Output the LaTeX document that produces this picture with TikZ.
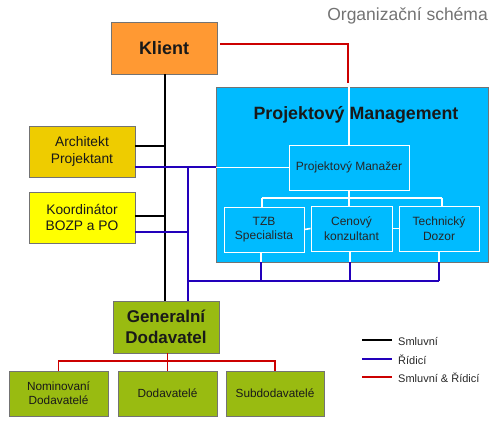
\documentclass[tikz,border=0pt]{standalone}
\usepackage{fontspec}
\setmainfont{Liberation Sans}
\begin{document}
\begin{tikzpicture}[x=1pt,y=-1pt,
  box/.style={draw=black!55,line width=0.8pt,inner sep=0pt,align=center,text=black!90},
  sub/.style={draw=white,line width=1pt,fill=pmblue,inner sep=0pt,align=center,text=black!85,font=\fontsize{12}{14.5}\selectfont},
  bot/.style={box,fill=gcol,minimum width=99,minimum height=45,font=\fontsize{11.8}{14}\selectfont},
  smluv/.style={line width=1.6pt,black},
  ridi/.style={line width=1.6pt,bluel},
  oboje/.style={line width=1.6pt,redl},
  wl/.style={line width=1.6pt,white},
  legtext/.style={anchor=west,inner sep=0pt,font=\fontsize{11}{13}\selectfont,text=black!85}]
\definecolor{pmblue}{HTML}{00BBFF}
\definecolor{orng}{HTML}{FF9933}
\definecolor{gold}{HTML}{EECC00}
\definecolor{ylw}{HTML}{FFFF00}
\definecolor{gcol}{HTML}{99BB11}
\definecolor{bluel}{HTML}{2200BB}
\definecolor{redl}{HTML}{CC0000}
\useasboundingbox (0,0) rectangle (497,426);
% title
\node[anchor=east,text=black!55,font=\fontsize{17.5}{19}\selectfont,inner sep=0pt] (title) at (488,16) {Organizační schéma};
% main boxes
\node[box,fill=orng,minimum width=106,minimum height=52,font=\fontsize{18}{20}\selectfont\bfseries] (klient) at (164,48) {Klient};
\node[box,fill=gold,minimum width=106,minimum height=51,font=\fontsize{13.8}{16.5}\selectfont] (arch) at (82,151.5) {Architekt\\Projektant};
\node[box,fill=ylw,minimum width=106,minimum height=51,font=\fontsize{13.8}{16.5}\selectfont] (koord) at (82,217.5) {Koordinátor\\BOZP a PO};
\node[box,fill=pmblue,minimum width=272,minimum height=175] (pm) at (352,174.5) {};
\node[font=\fontsize{17.8}{20}\selectfont\bfseries,text=black!90,inner sep=0pt] (pmtitle) at (356,115) {Projektový Management};
\node[box,fill=gcol,minimum width=106,minimum height=52,font=\fontsize{17}{20.5}\selectfont\bfseries] (gen) at (166,327) {Generalní\\Dodavatel};
% coordinates for connector rows/columns
\coordinate (bx) at (165,0);
\coordinate (blx) at (188,0);
\coordinate (r1) at (0,146);
\coordinate (r2) at (0,216);
\coordinate (rb1) at (0,167);
\coordinate (rb2) at (0,232);
\coordinate (rh) at (0,281);
\coordinate (c1) at (261,0);
\coordinate (c2) at (350,0);
\coordinate (c3) at (439,0);
\coordinate (redy) at (0,44);
\coordinate (redend) at (348,83);
% white internal connectors
\node[sub,minimum width=120,minimum height=45] (man) at (349,167.5) {Projektový Manažer};
\draw[wl] (man.north |- pm.north) -- (man.north);
\draw[wl] (pm.west |- man.west) -- (man.west);
\coordinate (wt) at (0,198);
\draw[wl] (man.south) -- (man.south |- wt);
\draw[wl] (262,198) -- (442,198);
\draw[wl] (262,198) -- (262,207);
\draw[wl] (349,198) -- (349,207);
\draw[wl] (442,198) -- (442,207);
\draw[wl] (c1 |- pm.south) -- (c1 |- 252,252);
\draw[wl] (c2 |- pm.south) -- (c2 |- 252,251);
\draw[wl] (c3 |- pm.south) -- (c3 |- 252,251);
\node[sub,minimum width=80,minimum height=45] (tzb) at (264,229.5) {TZB\\Specialista};
\node[sub,minimum width=81,minimum height=45] (cen) at (351.5,228.5) {Cenový\\konzultant};
\node[sub,minimum width=80,minimum height=45] (tech) at (439,228.5) {Technický\\Dozor};
\draw[wl] (tzb.east) -- (cen.west);
\draw[wl] (cen.east) -- (tech.west);
% black contractual
\draw[smluv] (bx |- klient.south) -- (bx |- gen.north);
\draw[smluv] (arch.east |- r1) -- (bx |- r1);
\draw[smluv] (koord.east |- r2) -- (bx |- r2);
% blue managing
\draw[ridi] (arch.east |- rb1) -- (pm.west |- rb1);
\draw[ridi] (koord.east |- rb2) -- (blx |- rb2);
\draw[ridi] (blx |- rb1) -- (blx |- gen.north);
\draw[ridi] (blx |- rh) -- (c3 |- rh);
\draw[ridi] (c1 |- pm.south) -- (c1 |- rh);
\draw[ridi] (c2 |- pm.south) -- (c2 |- rh);
\draw[ridi] (c3 |- pm.south) -- (c3 |- rh);
% red
\draw[oboje] ([xshift=3]klient.east |- redy) -| (redend);
% bottom
\node[bot] (nom) at (58.5,393.5) {Nominovaní\\Dodavatelé};
\node[bot] (dod) at (167.5,393.5) {Dodavatelé};
\node[bot,minimum width=98] (subd) at (275,393.5) {Subdodavatelé};
\coordinate (rt) at (0,361);
\draw[oboje] (dod.north |- gen.south) -- (dod.north |- rt);
\draw[oboje] (nom.north) -- (nom.north |- rt) -- (subd.north |- rt) -- (subd.north);
\draw[oboje] (dod.north |- rt) -- (dod.north);
% legend
\coordinate (l1a) at (362,340); \coordinate (l1b) at (392,340);
\coordinate (l2a) at (362,359); \coordinate (l2b) at (392,359);
\coordinate (l3a) at (362,377); \coordinate (l3b) at (392,377);
\draw[smluv] (l1a) -- (l1b);
\draw[ridi] (l2a) -- (l2b);
\draw[oboje] (l3a) -- (l3b);
\node[legtext] (lt1) at (398,341) {Smluvní};
\node[legtext] (lt2) at (398,360) {Řídicí};
\node[legtext] (lt3) at (398,378) {Smluvní \& Řídicí};
\end{tikzpicture}
\end{document}
